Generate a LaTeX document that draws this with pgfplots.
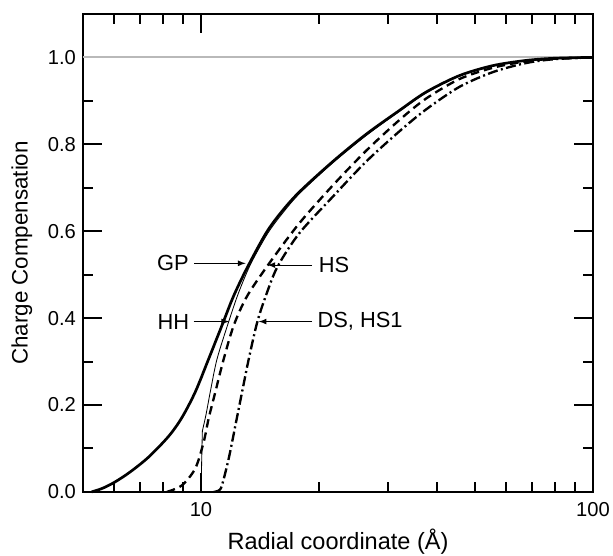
\documentclass[border=0pt]{standalone}
\usepackage{fontspec}
\setmainfont{Liberation Sans}
\usepackage{pgfplots}
\pgfplotsset{compat=1.18}
\begin{document}
\fontsize{12}{14}\selectfont
\begin{tikzpicture}
\begin{axis}[
  scale only axis, width=303.6pt, height=284.5pt,
  xmode=log, xmin=5, xmax=100, ymin=0, ymax=1.1,
  log ticks with fixed point,
  xtick={10,100}, minor xtick={6,7,8,9,20,30,40,50,60,70,80,90},
  ytick={0,0.2,0.4,0.6,0.8,1.0}, minor ytick={0.1,0.3,0.5,0.7,0.9},
  yticklabel style={/pgf/number format/fixed,/pgf/number format/fixed zerofill,/pgf/number format/precision=1},
  /pgf/number format/assume math mode=true,
  tick style={black, line width=1.2pt},
  major tick length=11.3pt, minor tick length=6pt,
  tick align=inside,
  axis line style={line width=1.5pt},
  xlabel={Radial coordinate (Å)}, ylabel={Charge Compensation},
  xticklabel style={yshift=-2pt},
  xlabel style={at={(axis description cs:0.5,-0.121)}, anchor=base, font=\fontsize{14}{16}\selectfont},
  ylabel style={at={(axis description cs:-0.1088,0.5)}, anchor=base, font=\fontsize{13.3}{16}\selectfont},
  clip=false,
]
\addplot[gray!55, line width=1.3pt, forget plot] coordinates {(5,1) (100,1)};
% GP thick solid
\addplot[black, line width=1.6pt, smooth, tension=0.5] coordinates {
(5.26,0) (5.6,0.008) (6.04,0.023) (6.6,0.046) (7.35,0.08) (8.27,0.128) (8.94,0.171) (9.67,0.23) (10.46,0.306) (11.31,0.383) (12.1,0.45) (13.1,0.515) (14.64,0.595) (16.0,0.643) (17.81,0.69) (21.67,0.76) (26.37,0.823) (32.09,0.878) (37.5,0.92) (45.6,0.958) (55.5,0.981) (67.5,0.993) (80,0.998) (100,1.0)};
% HH thin solid
\addplot[black, line width=0.5pt] coordinates {(10.0,0) (10.08,0.14)};
\addplot[black, line width=0.5pt, smooth, tension=0.5] coordinates {
(10.08,0.14) (10.3,0.178) (10.56,0.23) (10.99,0.306) (11.77,0.392) (12.49,0.46) (13.4,0.525) (14.8,0.595) (16.2,0.643) (17.9,0.688) (21.67,0.757) (26.37,0.82) (32.09,0.876) (37.5,0.918) (45.6,0.957) (55.5,0.98) (67.5,0.993) (100,1.0)};
% HS dashed
\addplot[black, line width=1.4pt, dash pattern=on 5pt off 3pt, smooth, tension=0.5] coordinates {
(8.19,0) (8.94,0.015) (9.67,0.054) (10.16,0.115) (10.46,0.169) (10.88,0.23) (11.43,0.306) (12.12,0.383) (13.1,0.45) (14.93,0.526) (17.81,0.618) (21.67,0.705) (26.37,0.785) (32.09,0.856) (37.5,0.905) (45.6,0.95) (55.5,0.976) (67.5,0.991) (80,0.997) (100,1.0)};
% DS, HS1 dash-dot
\addplot[black, line width=1.4pt, dash pattern=on 6pt off 2pt on 1.2pt off 2pt, smooth, tension=0.5] coordinates {
(10.78,0) (11.1,0.003) (11.31,0.015) (11.77,0.077) (12.24,0.153) (12.73,0.23) (13.24,0.306) (13.91,0.39) (14.62,0.45) (15.67,0.518) (17.81,0.595) (21.67,0.679) (26.37,0.76) (32.09,0.83) (37.5,0.88) (45.6,0.932) (55.5,0.966) (67.5,0.987) (80,0.996) (100,1.0)};
% annotations
\node[font=\fontsize{13}{15}\selectfont] at (axis cs:8.48,0.526) {GP};
\draw[-latex, line width=0.6pt] (axis cs:9.6,0.526) -- (axis cs:13.0,0.526);
\node[anchor=west, inner sep=0pt, font=\fontsize{13}{15}\selectfont] at (axis cs:19.96,0.522) {HS};
\draw[-latex, line width=0.6pt] (axis cs:19.22,0.522) -- (axis cs:14.78,0.522);
\node[font=\fontsize{13}{15}\selectfont] at (axis cs:8.5,0.392) {HH};
\draw[-latex, line width=0.6pt] (axis cs:9.58,0.392) -- (axis cs:11.8,0.392);
\node[anchor=west, inner sep=0pt, font=\fontsize{13}{15}\selectfont] at (axis cs:19.8,0.392) {DS, HS1};
\draw[-latex, line width=0.6pt] (axis cs:19.22,0.392) -- (axis cs:14.04,0.392);
\end{axis}
\pgfresetboundingbox
\path ([xshift=-49.4pt,yshift=-38.1pt]current axis.south west) rectangle ([xshift=11.9pt,yshift=8.3pt]current axis.north east);
\end{tikzpicture}
\end{document}
